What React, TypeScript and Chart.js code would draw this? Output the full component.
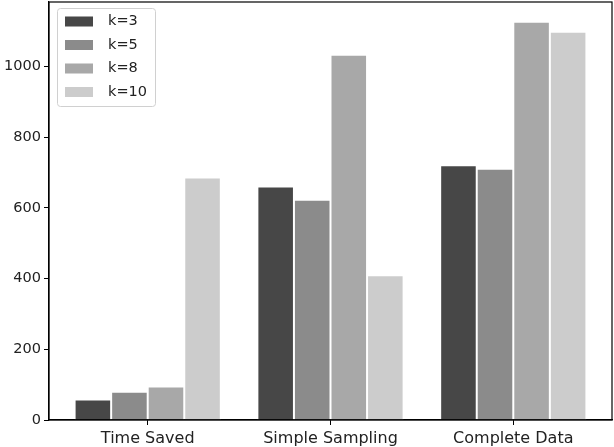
import React, { useEffect, useRef } from "react";
import { Chart, registerables } from "chart.js";

Chart.register(...registerables);

const categories = ["Time Saved", "Simple Sampling", "Complete Data"];
const seriesLabels = ["k=3", "k=5", "k=8", "k=10"];
const k3 = [58, 661, 721];
const k5 = [80, 623, 711];
const k8 = [95, 1034, 1127];
const k10 = [686, 410, 1099];
const colors = ["#474747", "#8b8b8b", "#a8a8a8", "#cccccc"];
const yTicks = [0, 200, 400, 600, 800, 1000];

const FONT = "'DejaVu Sans', sans-serif";

const framePlugin = {
  id: "frame",
  afterDraw(chart: any) {
    const { ctx, chartArea } = chart;
    ctx.save();
    ctx.strokeStyle = "#000";
    ctx.lineWidth = 1.2;
    ctx.strokeRect(chartArea.left, chartArea.top, chartArea.right - chartArea.left, chartArea.bottom - chartArea.top);
    // legend
    const lx = 57.5, ly = 8.5, lw = 98, lh = 98;
    ctx.fillStyle = "rgba(255,255,255,0.85)";
    ctx.strokeStyle = "#d0d0d0";
    ctx.lineWidth = 1;
    ctx.beginPath();
    const r = 3;
    ctx.moveTo(lx + r, ly);
    ctx.lineTo(lx + lw - r, ly);
    ctx.quadraticCurveTo(lx + lw, ly, lx + lw, ly + r);
    ctx.lineTo(lx + lw, ly + lh - r);
    ctx.quadraticCurveTo(lx + lw, ly + lh, lx + lw - r, ly + lh);
    ctx.lineTo(lx + r, ly + lh);
    ctx.quadraticCurveTo(lx, ly + lh, lx, ly + lh - r);
    ctx.lineTo(lx, ly + r);
    ctx.quadraticCurveTo(lx, ly, lx + r, ly);
    ctx.closePath();
    ctx.fill();
    ctx.stroke();
    ctx.font = `14.5px ${FONT}`;
    ctx.textBaseline = "middle";
    chart.data.datasets.forEach((ds: any, i: number) => {
      const cy = 21.5 + i * 23.5;
      ctx.fillStyle = ds.backgroundColor;
      ctx.fillRect(65, cy - 5, 28, 10);
      ctx.fillStyle = "#222";
      ctx.fillText(ds.label, 108, cy);
    });
    ctx.restore();
  },
};

export default function App() {
  const ref = useRef<HTMLCanvasElement>(null);
  useEffect(() => {
    document.body.style.margin = "0";
    const series = [k3, k5, k8, k10];
    const chart = new Chart(ref.current!, {
      type: "bar",
      data: {
        datasets: series.map((vals, i) => ({
          label: seriesLabels[i],
          data: vals.map((v, j) => ({ x: j, y: v })),
          backgroundColor: colors[i],
          borderColor: "#ffffff",
          borderWidth: 1,
          barPercentage: 1,
          categoryPercentage: 0.8,
        })),
      },
      options: {
        responsive: false,
        animation: false,
        layout: { padding: { top: 2, right: 2, left: 0, bottom: 0 } },
        plugins: { legend: { display: false }, tooltip: { enabled: false } },
        scales: {
          x: {
            type: "linear",
            offset: false,
            min: -0.54,
            max: 2.54,
            afterBuildTicks: (axis: any) => {
              axis.ticks = categories.map((_, i) => ({ value: i }));
            },
            afterFit: (axis: any) => {
              axis.height = 27;
              axis.paddingLeft = 0;
              axis.paddingRight = 0;
            },
            ticks: {
              callback: (v: any) => categories[v as number] ?? "",
              font: { family: FONT, size: 16 },
              color: "#222",
              padding: 4,
              maxRotation: 0,
              autoSkip: false,
            },
            grid: { display: true, drawOnChartArea: false, drawTicks: true, tickLength: 5, color: "#000", offset: false },
            border: { display: true, color: "#000", width: 1.2 },
          },
          y: {
            min: 0,
            max: 1183,
            afterBuildTicks: (axis: any) => {
              axis.ticks = yTicks.map((v) => ({ value: v }));
            },
            afterFit: (axis: any) => {
              axis.width = 49;
              axis.paddingTop = 0;
              axis.paddingBottom = 0;
            },
            ticks: {
              callback: (v: any) => String(v),
              font: { family: FONT, size: 14.5 },
              color: "#222",
              padding: 3,
            },
            grid: { display: true, drawOnChartArea: false, drawTicks: true, tickLength: 5, color: "#000" },
            border: { display: true, color: "#000", width: 1.2 },
          },
        },
      },
      plugins: [framePlugin],
    });
    return () => chart.destroy();
  }, []);
  return <canvas ref={ref} width={614} height={447} style={{ display: "block" }} />;
}
